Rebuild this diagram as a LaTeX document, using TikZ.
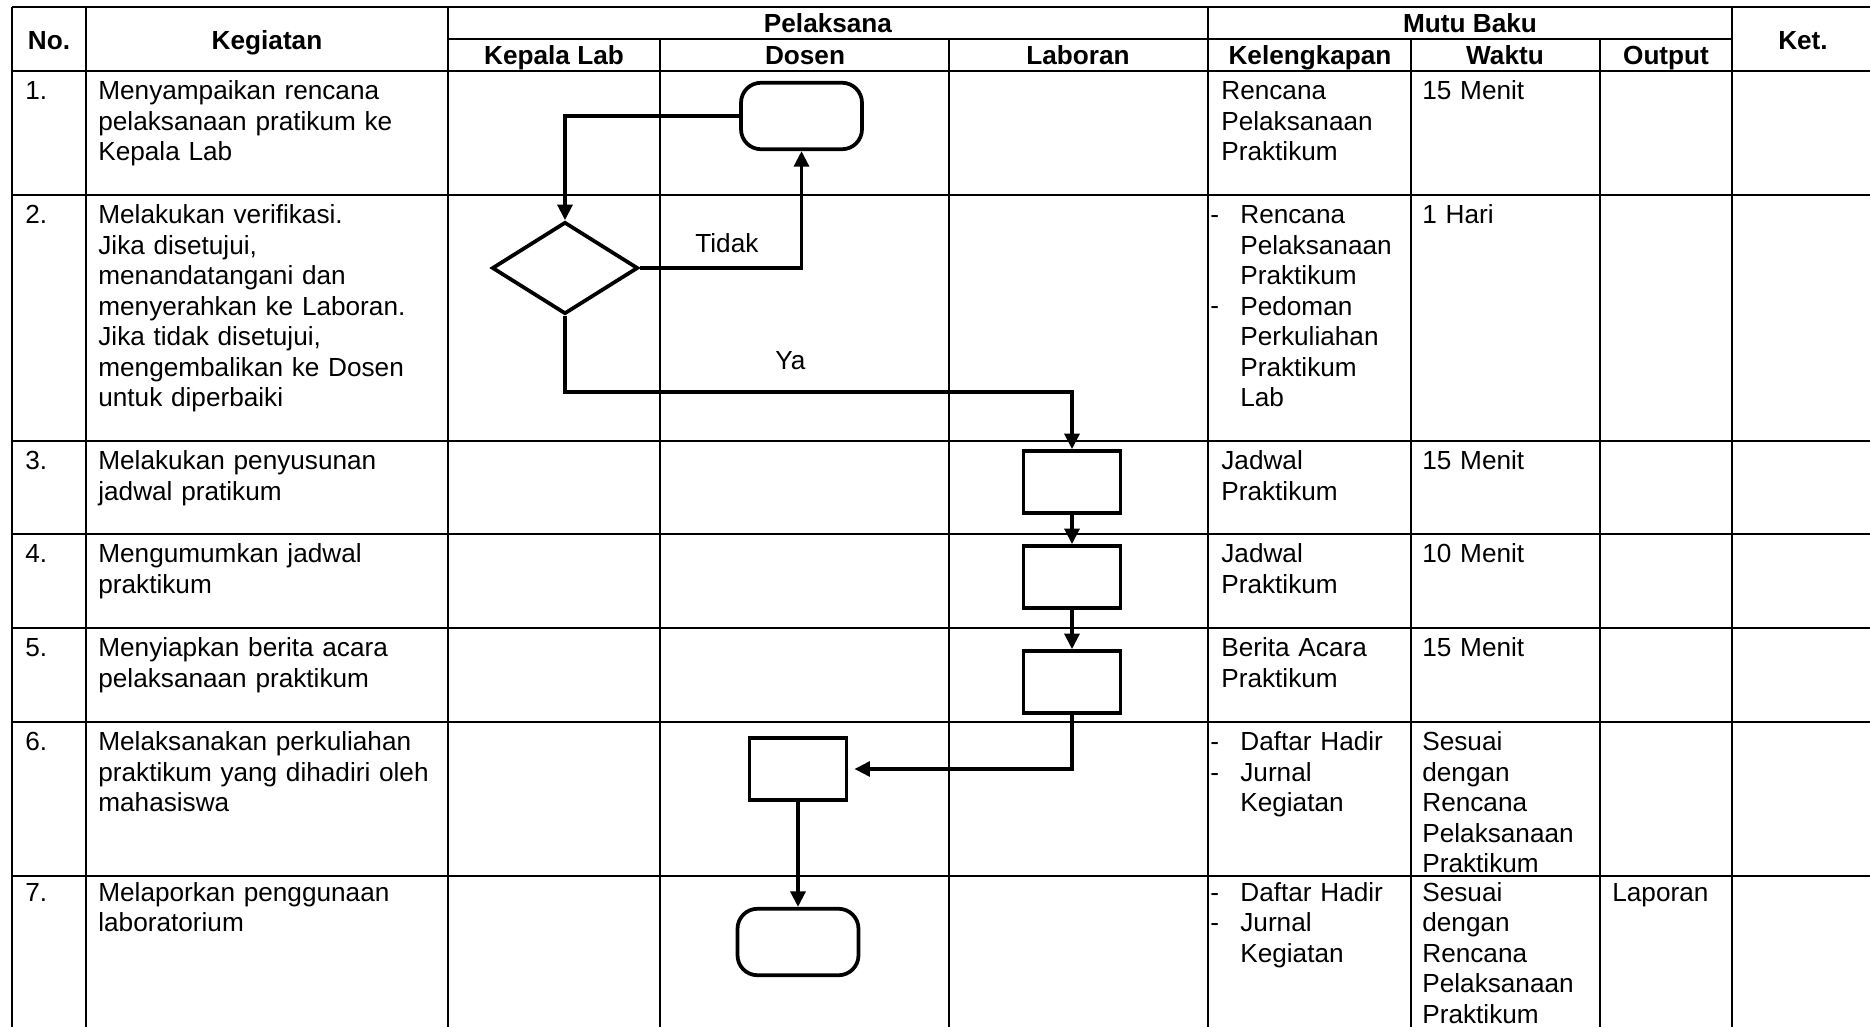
\documentclass[tikz,border=0pt]{standalone}
\usepackage{fontspec}
\setmainfont{Liberation Sans}
\usetikzlibrary{arrows.meta,positioning,shapes.geometric}

\begin{document}
\begin{tikzpicture}[x=0.02cm,y=-0.02cm,
		every node/.style={inner sep=0pt,font=\fontsize{14.9}{17.4}\selectfont},
		txt/.style={anchor=base west,align=left,text width=8cm},
		head/.style={anchor=base,font=\fontsize{14.9}{17.4}\selectfont\bfseries},
		grid/.style={line width=.045cm},
		flow/.style={->,>={Triangle[length=8.8pt,width=8.5pt]},line width=.065cm},
		proc/.style={shape=rectangle,draw,line width=.075cm,minimum width=1.94cm,minimum height=1.24cm},
		term/.style={shape=rectangle,rounded corners=.4cm,draw,line width=.075cm,minimum width=2.42cm,minimum height=1.33cm},
		decide/.style={shape=diamond,draw,line width=.075cm,minimum width=2.92cm,minimum height=1.84cm}]
		\useasboundingbox (0,0) rectangle (1870,1027);
		\draw[grid] (12,7) -- (1870,7) (448,39) -- (1732,39) (12,71) -- (1870,71);
		\draw[grid] (12,195) -- (1870,195) (12,441) -- (1870,441) (12,534) -- (1870,534);
		\draw[grid] (12,628) -- (1870,628) (12,722) -- (1870,722) (12,876) -- (1870,876);
		\draw[grid] (12,7) -- (12,1027) (86,7) -- (86,1027) (448,7) -- (448,1027) (1208,7) -- (1208,1027) (1732,7) -- (1732,1027);
		\draw[grid] (660,39) -- (660,1027) (949,39) -- (949,1027) (1411,39) -- (1411,1027) (1600,39) -- (1600,1027);
		\node (hno) at (49,49.3) [head] {No.};
		\node (hkeg) at (267,49.3) [head] {Kegiatan};
		\node (hpel) at (828,33) [head] {Pelaksana};
		\node (hkalab) at (554,64.4) [head] {Kepala Lab};
		\node (hdosen) at (805,64.4) [head] {Dosen};
		\node (hlaboran) at (1078,64.4) [head] {Laboran};
		\node (hmutu) at (1470,33) [head] {Mutu Baku};
		\node (hlengkap) at (1310,64.4) [head] {Kelengkapan};
		\node (hwaktu) at (1505,64.4) [head] {Waktu};
		\node (houtput) at (1666,64.4) [head] {Output};
		\node (hket) at (1803,49.3) [head] {Ket.};
		\node (n1) at (25,99.5) [txt] {1.};
		\node (k1) at (98,99.5) [txt] {Menyampaikan rencana\\pelaksanaan pratikum ke\\Kepala Lab};
		\node (l1) at (1221,99.5) [txt] {Rencana\\Pelaksanaan\\Praktikum};
		\node (w1) at (1422,99.5) [txt] {15 Menit};
		\node (n2) at (25,223.5) [txt] {2.};
		\node (k2) at (98,223.5) [txt] {Melakukan verifikasi.\\Jika disetujui,\\menandatangani dan\\menyerahkan ke Laboran.\\Jika tidak disetujui,\\mengembalikan ke Dosen\\untuk diperbaiki};
		\node (d2a) at (1210,223.5) [txt] {-};
		\node (d2b) at (1210,315) [txt] {-};
		\node (l2) at (1240,223.5) [txt] {Rencana\\Pelaksanaan\\Praktikum\\Pedoman\\Perkuliahan\\Praktikum\\Lab};
		\node (w2) at (1422,223.5) [txt] {1 Hari};
		\node (n3) at (25,469.5) [txt] {3.};
		\node (k3) at (98,469.5) [txt] {Melakukan penyusunan\\jadwal pratikum};
		\node (l3) at (1221,469.5) [txt] {Jadwal\\Praktikum};
		\node (w3) at (1422,469.5) [txt] {15 Menit};
		\node (n4) at (25,562.5) [txt] {4.};
		\node (k4) at (98,562.5) [txt] {Mengumumkan jadwal\\praktikum};
		\node (l4) at (1221,562.5) [txt] {Jadwal\\Praktikum};
		\node (w4) at (1422,562.5) [txt] {10 Menit};
		\node (n5) at (25,656.5) [txt] {5.};
		\node (k5) at (98,656.5) [txt] {Menyiapkan berita acara\\pelaksanaan praktikum};
		\node (l5) at (1221,656.5) [txt] {Berita Acara\\Praktikum};
		\node (w5) at (1422,656.5) [txt] {15 Menit};
		\node (n6) at (25,750.5) [txt] {6.};
		\node (k6) at (98,750.5) [txt] {Melaksanakan perkuliahan\\praktikum yang dihadiri oleh\\mahasiswa};
		\node (d6a) at (1210,750.5) [txt] {-};
		\node (d6b) at (1210,781) [txt] {-};
		\node (l6) at (1240,750.5) [txt] {Daftar Hadir\\Jurnal\\Kegiatan};
		\node (w6) at (1422,750.5) [txt] {Sesuai\\dengan\\Rencana\\Pelaksanaan\\Praktikum};
		\node (n7) at (25,901) [txt] {7.};
		\node (k7) at (98,901) [txt] {Melaporkan penggunaan\\laboratorium};
		\node (d7a) at (1210,901) [txt] {-};
		\node (d7b) at (1210,931.5) [txt] {-};
		\node (l7) at (1240,901) [txt] {Daftar Hadir\\Jurnal\\Kegiatan};
		\node (w7) at (1422,901) [txt] {Sesuai\\dengan\\Rencana\\Pelaksanaan\\Praktikum};
		\node (o7) at (1612,901) [txt] {Laporan};
		\node (start) at (801.5,116) [term] {};
		\node (dec) at (565,268) [decide] {};
		\node (jadwal) at (1072,482) [proc] {};
		\node (umum) at (1072,577) [proc] {};
		\node (berita) at (1072,682) [proc] {};
		\node (kuliah) at (798,769) [proc] {};
		\node (lapor) at (798,942) [term] {};
		\coordinate (ya) at (565,392);
		\node (tidak) at (695,252.7) [anchor=base west] {Tidak};
		\node (yalabel) at (775,369) [anchor=base west] {Ya};
		\draw[flow] (start.west) -| (dec.north);
		\draw[flow] (dec.east) -| (start.south);
		\draw[flow] (dec.south) -- (ya) -| (jadwal.north);
		\draw[flow] (jadwal) -- (umum);
		\draw[flow] (umum) -- (berita);
		\draw[flow,shorten >=3.5pt] (berita.south) |- (kuliah.east);
		\draw[flow] (kuliah) -- (lapor);
\end{tikzpicture}
\end{document}
